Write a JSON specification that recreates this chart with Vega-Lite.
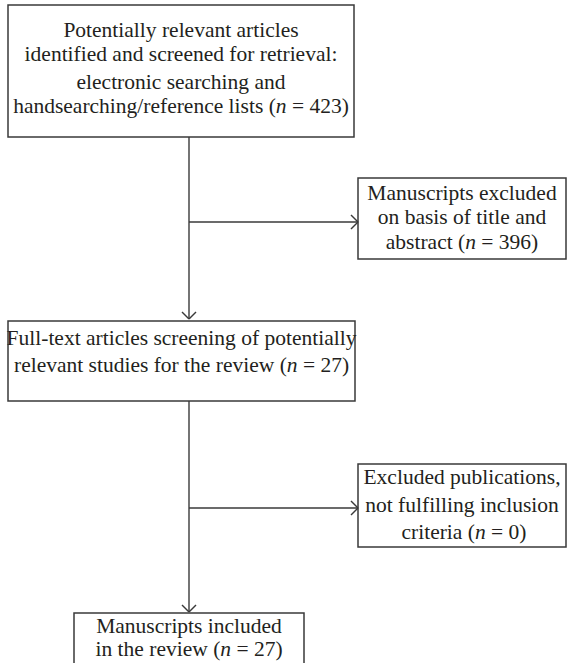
{
  "$schema": "https://vega.github.io/schema/vega-lite/v6.json",
  "width": 568,
  "height": 663,
  "autosize": {"type": "none"},
  "padding": 0,
  "background": "white",
  "config": {"view": {"stroke": null}},
  "datasets": {
    "boxes": [
      {"id": "b1", "x": 8, "x2": 354, "y": 5, "y2": 137},
      {"id": "b2", "x": 358, "x2": 566, "y": 178, "y2": 259},
      {"id": "b3", "x": 8, "x2": 355, "y": 321, "y2": 401},
      {"id": "b4", "x": 358, "x2": 566, "y": 464, "y2": 547},
      {"id": "b5", "x": 74, "x2": 304, "y": 613, "y2": 690}
    ],
    "lines": [
      {"x": 189, "y": 137, "x2": 189, "y2": 319},
      {"x": 182, "y": 312, "x2": 189, "y2": 319},
      {"x": 196, "y": 312, "x2": 189, "y2": 319},
      {"x": 189, "y": 222, "x2": 358, "y2": 222},
      {"x": 351, "y": 215, "x2": 358, "y2": 222},
      {"x": 351, "y": 229, "x2": 358, "y2": 222},
      {"x": 189, "y": 401, "x2": 189, "y2": 612},
      {"x": 182, "y": 605, "x2": 189, "y2": 612},
      {"x": 196, "y": 605, "x2": 189, "y2": 612},
      {"x": 189, "y": 508, "x2": 358, "y2": 508},
      {"x": 351, "y": 501, "x2": 358, "y2": 508},
      {"x": 351, "y": 515, "x2": 358, "y2": 508}
    ],
    "texts": [
      {"kind": "c", "x": 181, "y": 31, "t": "Potentially relevant articles"},
      {"kind": "c", "x": 181, "y": 55, "t": "identified and screened for retrieval:"},
      {"kind": "c", "x": 181, "y": 83, "t": "electronic searching and"},
      {"kind": "r", "x": 275.8, "y": 107, "t": "handsearching/reference lists ("},
      {"kind": "i", "x": 275.8, "y": 107, "t": "n"},
      {"kind": "l", "x": 291.9, "y": 107, "t": "= 423)"},

      {"kind": "c", "x": 462, "y": 194, "t": "Manuscripts excluded"},
      {"kind": "c", "x": 462, "y": 218, "t": "on basis of title and"},
      {"kind": "r", "x": 465.2, "y": 243, "t": "abstract ("},
      {"kind": "i", "x": 465.2, "y": 243, "t": "n"},
      {"kind": "l", "x": 481.3, "y": 243, "t": "= 396)"},

      {"kind": "c", "x": 181.5, "y": 339, "t": "Full-text articles screening of potentially"},
      {"kind": "r", "x": 286.8, "y": 366, "t": "relevant studies for the review ("},
      {"kind": "i", "x": 286.8, "y": 366, "t": "n"},
      {"kind": "l", "x": 302.9, "y": 366, "t": "= 27)"},

      {"kind": "c", "x": 462, "y": 478, "t": "Excluded publications,"},
      {"kind": "c", "x": 462, "y": 506, "t": "not fulfilling inclusion"},
      {"kind": "r", "x": 474.9, "y": 533, "t": "criteria  ("},
      {"kind": "i", "x": 474.9, "y": 533, "t": "n"},
      {"kind": "l", "x": 491.0, "y": 533, "t": "= 0)"},

      {"kind": "c", "x": 189, "y": 627, "t": "Manuscripts included"},
      {"kind": "r", "x": 220.3, "y": 650, "t": "in the review ("},
      {"kind": "i", "x": 220.3, "y": 650, "t": "n"},
      {"kind": "l", "x": 236.4, "y": 650, "t": "= 27)"}
    ]
  },
  "layer": [
    {
      "data": {"name": "boxes"},
      "mark": {"type": "rect", "fill": "white", "stroke": "#3a3a3a", "strokeWidth": 1.5},
      "encoding": {
        "x": {"field": "x", "type": "quantitative", "scale": {"domain": [0, 568], "nice": false, "zero": false}, "axis": null},
        "x2": {"field": "x2"},
        "y": {"field": "y", "type": "quantitative", "scale": {"domain": [0, 663], "nice": false, "zero": false, "reverse": true}, "axis": null},
        "y2": {"field": "y2"}
      }
    },
    {
      "data": {"name": "lines"},
      "mark": {"type": "rule", "stroke": "#3a3a3a", "strokeWidth": 1.4},
      "encoding": {
        "x": {"field": "x", "type": "quantitative"},
        "x2": {"field": "x2"},
        "y": {"field": "y", "type": "quantitative"},
        "y2": {"field": "y2"}
      }
    },
    {
      "data": {"name": "texts"},
      "transform": [{"filter": "datum.kind == 'c'"}],
      "mark": {"type": "text", "font": "Liberation Serif", "fontSize": 21.5, "align": "center", "baseline": "middle", "color": "#231f20"},
      "encoding": {
        "x": {"field": "x", "type": "quantitative"},
        "y": {"field": "y", "type": "quantitative"},
        "text": {"field": "t"}
      }
    },
    {
      "data": {"name": "texts"},
      "transform": [{"filter": "datum.kind == 'r'"}],
      "mark": {"type": "text", "font": "Liberation Serif", "fontSize": 21.5, "align": "right", "baseline": "middle", "color": "#231f20"},
      "encoding": {
        "x": {"field": "x", "type": "quantitative"},
        "y": {"field": "y", "type": "quantitative"},
        "text": {"field": "t"}
      }
    },
    {
      "data": {"name": "texts"},
      "transform": [{"filter": "datum.kind == 'i'"}],
      "mark": {"type": "text", "font": "Liberation Serif", "fontSize": 21.5, "fontStyle": "italic", "align": "left", "baseline": "middle", "color": "#231f20"},
      "encoding": {
        "x": {"field": "x", "type": "quantitative"},
        "y": {"field": "y", "type": "quantitative"},
        "text": {"field": "t"}
      }
    },
    {
      "data": {"name": "texts"},
      "transform": [{"filter": "datum.kind == 'l'"}],
      "mark": {"type": "text", "font": "Liberation Serif", "fontSize": 21.5, "align": "left", "baseline": "middle", "color": "#231f20"},
      "encoding": {
        "x": {"field": "x", "type": "quantitative"},
        "y": {"field": "y", "type": "quantitative"},
        "text": {"field": "t"}
      }
    }
  ]
}
